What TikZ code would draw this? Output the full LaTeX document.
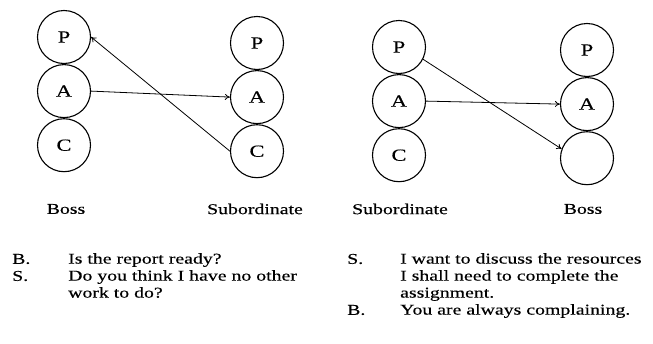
\documentclass[tikz,border=0pt]{standalone}
\usepackage{fontspec}
\setmainfont{Liberation Serif}[FakeStretch=1.32, FakeBold=0.3]
\usetikzlibrary{arrows.meta, positioning}

\begin{document}
\begin{tikzpicture}[
    x=1pt, y=-1pt,
    every node/.style={font=\fontsize{15}{17}\selectfont},
    state/.style={circle, draw, line width=1.1pt, minimum size=53pt, inner sep=0pt,
        font=\fontsize{17}{17}\selectfont},
    role/.style={anchor=center},
    tag/.style={anchor=west, inner sep=0pt},
    speech/.style={anchor=north west, inner sep=0pt, align=left},
    arrow/.style={-{To[length=5pt, width=6pt]}, line width=0.8pt}
]
    \useasboundingbox (0,0) rectangle (653,343);

    % Boss -> Subordinate
    \node[state] (bp) at (64,37) {P};
    \node[state, below=0pt of bp] (ba) {A};
    \node[state, below=0pt of ba] (bc) {C};
    \node[state] (sp) at (257,43) {P};
    \node[state, below=0pt of sp] (sa) {A};
    \node[state, below=0pt of sa] (sc) {C};
    \node[role] (boss1) at (66,209) {Boss};
    \node[role] (sub1)  at (255,209) {Subordinate};

    \draw[arrow] (ba.east) -- (sa.west);
    \draw[arrow] (sc.west) -- (bp.east);

    % Subordinate -> Boss
    \node[state] (tp) at (399,47) {P};
    \node[state, below=0pt of tp] (ta) {A};
    \node[state, below=0pt of ta] (tc) {C};
    \node[state] (qp) at (587,50) {P};
    \node[state, below=0pt of qp] (qa) {A};
    \node[state, below=0pt of qa] (qe) {};
    \node[role] (sub2)  at (400,209) {Subordinate};
    \node[role] (boss2) at (583,209) {Boss};

    \draw[arrow] (ta.east) -- (qa.west);
    \draw[arrow] (tp.-27) -- (qe.160);

    % dialogues
    \node[tag]    (lb) at (12,259) {B.};
    \node[speech] (lq) at (68,253) {Is the report ready?};
    \node[tag]    (ls) at (12,276) {S.};
    \node[speech] (la) at (68,270) {Do you think I have no other\\work to do?};

    \node[tag]    (rs) at (347,259) {S.};
    \node[speech] (rq) at (400,253) {I want to discuss the resources\\I shall need to complete the\\assignment.};
    \node[tag]    (rb) at (347,310) {B.};
    \node[speech] (ra) at (400,304) {You are always complaining.};
\end{tikzpicture}
\end{document}
